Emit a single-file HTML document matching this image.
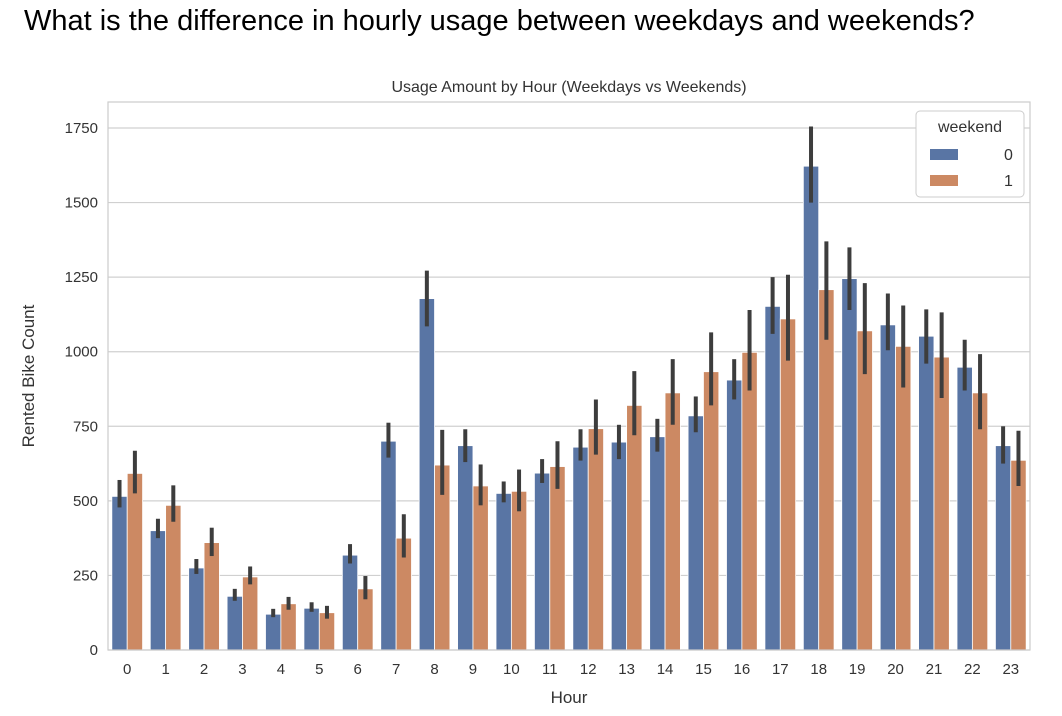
<!DOCTYPE html>
<html><head><meta charset="utf-8"><style>
body{margin:0;background:#fff;width:1062px;height:716px;overflow:hidden;font-family:"Liberation Sans",Arial,sans-serif}
#q{position:absolute;left:24px;top:5px;font-size:29px;color:#000;white-space:nowrap}
</style></head><body>
<div id="q">What is the difference in hourly usage between weekdays and weekends?</div>
<svg id="c" width="1062" height="716" style="position:absolute;left:0;top:0"></svg>
<script>
const hours=["0","1","2","3","4","5","6","7","8","9","10","11","12","13","14","15","16","17","18","19","20","21","22","23"];
const weekday=[515,400,275,180,120,140,318,700,1178,685,525,593,680,697,715,785,905,1152,1622,1245,1090,1052,948,685];
const weekdayLo=[478,375,255,165,110,128,290,645,1085,630,495,560,635,640,665,730,840,1060,1500,1140,1005,960,870,625];
const weekdayHi=[570,440,305,205,138,160,355,762,1272,740,565,640,740,755,775,850,975,1250,1755,1350,1195,1142,1040,750];
const weekend=[592,485,360,245,155,125,205,375,620,550,532,615,742,820,862,933,998,1110,1208,1070,1018,982,862,636];
const weekendLo=[525,430,315,220,135,105,170,310,520,485,465,540,655,720,755,820,870,970,1040,925,880,845,740,550];
const weekendHi=[668,552,410,280,178,148,248,455,738,622,605,700,840,935,975,1065,1140,1258,1370,1230,1155,1132,992,735];
const yTicks=[0,250,500,750,1000,1250,1500,1750];
const NS="http://www.w3.org/2000/svg";
const svg=document.getElementById('c');
const L=108,R=1030,T=102,B=650;
const y=v=>B-v*(650-128)/1750;
const step=(R-L)/hours.length;
const xc=i=>L+step*(i+0.5);
function mk(t,a,txt){const e=document.createElementNS(NS,t);for(const k in a)e.setAttribute(k,a[k]);if(txt!==undefined)e.textContent=txt;svg.appendChild(e);return e;}
yTicks.forEach(v=>{
const g=mk('line',{x1:L,x2:R,y1:y(v),y2:y(v),stroke:'#d0d0d0','stroke-width':1.2});


const t=mk('text',{x:L-10,y:y(v)+5,'text-anchor':'end','font-size':15,fill:'#333'},v);


});
const bw=step*0.4;
hours.forEach((h,i)=>{
[[weekday,weekdayLo,weekdayHi,'#5975a4',-1],[weekend,weekendLo,weekendHi,'#cc8963',0]].forEach(s=>{
const x0=xc(i)+s[4]*bw;
const r=mk('rect',{x:x0,y:y(s[0][i]),width:bw,height:B-y(s[0][i]),fill:s[3],stroke:'#fff','stroke-width':0.8});


const e=mk('line',{x1:x0+bw/2,x2:x0+bw/2,y1:y(s[1][i]),y2:y(s[2][i]),stroke:'#3d3d3d','stroke-width':4});


});
const t=mk('text',{x:xc(i),y:B+24,'text-anchor':'middle','font-size':15,fill:'#333'},h);


});
const fr=mk('rect',{x:L,y:T,width:R-L,height:B-T,fill:'none',stroke:'#ccc','stroke-width':1.2});


const ti=mk('text',{x:569,y:92,'text-anchor':'middle','font-size':16,fill:'#333'},'Usage Amount by Hour (Weekdays vs Weekends)');


const xt=mk('text',{x:569,y:703,'text-anchor':'middle','font-size':17,fill:'#333'},'Hour');


const yt=mk('text',{x:34,y:376,'text-anchor':'middle','font-size':17,fill:'#333',transform:'rotate(-90 34 376)'},'Rented Bike Count');


const lg=mk('rect',{x:916,y:111,width:108,height:86,fill:'#fff',stroke:'#ccc',rx:4});


const lt=mk('text',{x:970,y:132,'text-anchor':'middle','font-size':16,fill:'#333'},'weekend');


[['0','#5975a4',155],['1','#cc8963',181]].forEach(l=>{
const r=mk('rect',{x:930,y:l[2]-6,width:28,height:11,fill:l[1]});


const t=mk('text',{x:1004,y:l[2]+5,'font-size':16,fill:'#333'},l[0]);


});
</script>
</body></html>
